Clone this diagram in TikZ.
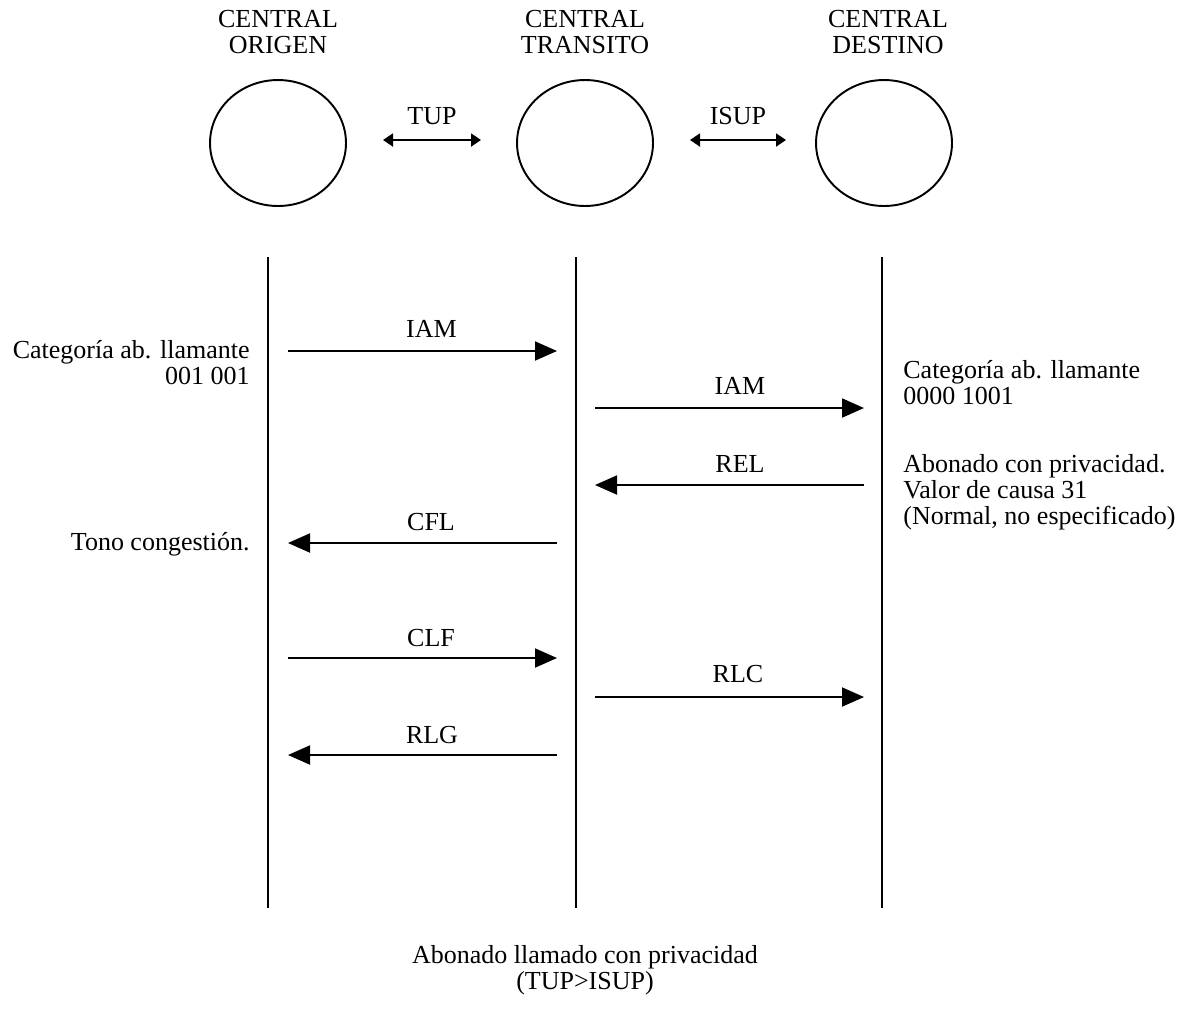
\documentclass[tikz,border=0pt]{standalone}
\usepackage{fontspec}
\setmainfont{Liberation Serif}
\usetikzlibrary{arrows.meta, shapes.geometric}

\tikzset{
  msg/.style={-{Triangle[length=0.44cm, width=0.38cm]}, line width=1.1pt},
  link/.style={{Triangle[length=0.2cm, width=0.26cm]}-{Triangle[length=0.2cm, width=0.26cm]}, line width=1.1pt},
  central/.style={draw, ellipse, line width=1.1pt, minimum width=2.72cm, minimum height=2.52cm, inner sep=0pt},
  txt/.style={inner sep=0pt, font=\fontsize{14.8}{14.8}\selectfont}
}

\begin{document}
\begin{tikzpicture}[x=0.02cm, y=-0.02cm]
  \useasboundingbox (0,0) rectangle (1192,1012);

  % centrales
  \node[central] (orig) at (278,143) {};
  \node[central] (tran) at (585,143) {};
  \node[central] (dest) at (884,143) {};
  \node[txt, align=center] (torig) at (278,32) {CENTRAL\\ORIGEN};
  \node[txt, align=center] (ttran) at (585,32) {CENTRAL\\TRANSITO};
  \node[txt, align=center] (tdest) at (888,32) {CENTRAL\\DESTINO};

  % enlaces entre centrales
  \coordinate (tup1) at (383,140); \coordinate (tup2) at (481,140);
  \coordinate (isup1) at (690,140); \coordinate (isup2) at (786,140);
  \draw[link] (tup1) -- (tup2) node[txt, midway, yshift=0.48cm] (ltup) {TUP};
  \draw[link] (isup1) -- (isup2) node[txt, midway, yshift=0.48cm] (lisup) {ISUP};

  % lineas de tiempo
  \coordinate (lo1) at (268,257); \coordinate (lo2) at (268,908);
  \coordinate (lt1) at (576,257); \coordinate (lt2) at (576,908);
  \coordinate (ld1) at (882,257); \coordinate (ld2) at (882,908);
  \draw[line width=1.1pt] (lo1) -- (lo2) (lt1) -- (lt2) (ld1) -- (ld2);

  % puntos de los mensajes
  \coordinate (a1) at (288,351); \coordinate (b1) at (557,351);
  \coordinate (a2) at (595,408); \coordinate (b2) at (864,408);
  \coordinate (a3) at (595,485); \coordinate (b3) at (864,485);
  \coordinate (a4) at (288,543); \coordinate (b4) at (557,543);
  \coordinate (a5) at (288,658); \coordinate (b5) at (557,658);
  \coordinate (a6) at (595,697); \coordinate (b6) at (864,697);
  \coordinate (a7) at (288,755); \coordinate (b7) at (557,755);

  % mensajes
  \draw[msg] (a1) -- (b1) node[txt, midway, xshift=0.18cm, yshift=0.44cm] (iam1) {IAM};
  \draw[msg] (a2) -- (b2) node[txt, midway, xshift=0.21cm, yshift=0.44cm] (iam2) {IAM};
  \draw[msg] (b3) -- (a3) node[txt, midway, xshift=0.21cm, yshift=0.42cm] (rel) {REL};
  \draw[msg] (b4) -- (a4) node[txt, midway, xshift=0.17cm, yshift=0.42cm] (cfl) {CFL};
  \draw[msg] (a5) -- (b5) node[txt, midway, xshift=0.17cm, yshift=0.40cm] (clf) {CLF};
  \draw[msg] (a6) -- (b6) node[txt, midway, xshift=0.17cm, yshift=0.46cm] (rlc) {RLC};
  \draw[msg] (b7) -- (a7) node[txt, midway, xshift=0.19cm, yshift=0.40cm] (rlg) {RLG};

  % notas
  \node[txt, align=right, anchor=east] (nota1) at (250,363) {Categoría ab. llamante\\001 001};
  \node[txt, align=left, anchor=west] (nota2) at (903,383) {Categoría ab. llamante\\0000 1001};
  \node[txt, align=left, anchor=west] (nota3) at (903,492) {Abonado con privacidad.\\Valor de causa 31\\(Normal, no especificado)};
  \node[txt, anchor=east] (nota4) at (250,544) {Tono congestión.};
  \node[txt, align=center] (titulo) at (585,970) {Abonado llamado con privacidad\\(TUP>ISUP)};
\end{tikzpicture}
\end{document}
